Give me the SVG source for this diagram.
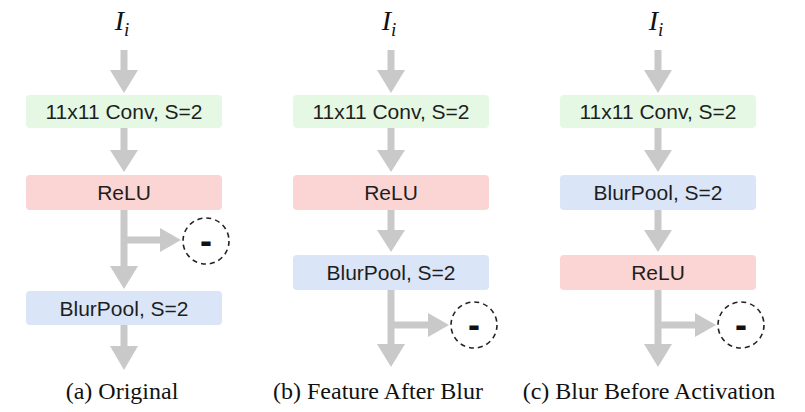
<svg xmlns="http://www.w3.org/2000/svg" width="805" height="412" viewBox="0 0 805 412">
<style>
.box{stroke:none}
.conv{fill:#e4f8e4}
.relu{fill:#fbd4d4}
.blur{fill:#dbe5f8}
.lbl{font-family:"Liberation Sans",Arial,sans-serif;font-size:21px;fill:#1e1e1e;text-anchor:middle}
.arr{fill:#c9c9c9}
.circ{fill:none;stroke:#222;stroke-width:1.6;stroke-dasharray:5 4}
.minus{font-family:"Liberation Sans",Arial,sans-serif;font-size:36px;font-weight:bold;fill:#111;text-anchor:middle}
.math{font-family:"Liberation Serif","Times New Roman",serif;font-style:italic;font-size:28px;fill:#111;text-anchor:middle}
.cap{font-family:"Liberation Serif","Times New Roman",serif;font-size:24px;fill:#111;text-anchor:middle}
</style>
<rect width="805" height="412" fill="#ffffff"/>

<g id="connectors">
  <!-- panel a -->
  <path class="arr" d="M120.5 50 V70 H110 L124 93 L138 70 H127.5 V50 Z"/>
  <path class="arr" d="M120.5 128 V150 H110 L124 172 L138 150 H127.5 V128 Z"/>
  <path class="arr" d="M120.5 210 V266 H110 L124 289 L138 266 H127.5 V210 Z"/>
  <path class="arr" d="M124 236.5 H160 V228 L181 240 L160 252 V243.5 H124 Z"/>
  <path class="arr" d="M120.5 325 V346 H110 L124 370 L138 346 H127.5 V325 Z"/>
  <!-- panel b -->
  <path class="arr" d="M387.5 50 V70 H377 L391 93 L405 70 H394.5 V50 Z"/>
  <path class="arr" d="M387.5 128 V150 H377 L391 172 L405 150 H394.5 V128 Z"/>
  <path class="arr" d="M387.5 210 V230 H377 L391 252 L405 230 H394.5 V210 Z"/>
  <path class="arr" d="M387.5 290 V344 H377 L391 367 L405 344 H394.5 V290 Z"/>
  <path class="arr" d="M391 321.5 H428 V313 L449 325 L428 337 V328.5 H391 Z"/>
  <!-- panel c -->
  <path class="arr" d="M654.5 50 V70 H644 L658 93 L672 70 H661.5 V50 Z"/>
  <path class="arr" d="M654.5 128 V150 H644 L658 172 L672 150 H661.5 V128 Z"/>
  <path class="arr" d="M654.5 210 V230 H644 L658 252 L672 230 H661.5 V210 Z"/>
  <path class="arr" d="M654.5 290 V344 H644 L658 367 L672 344 H661.5 V290 Z"/>
  <path class="arr" d="M658 321.5 H695 V313 L716 325 L695 337 V328.5 H658 Z"/>
</g>

<!-- Panel (a) -->
<g id="a-input"><text class="math" x="122" y="30">I<tspan font-size="19" dy="6">i</tspan></text></g>
<g id="a-conv"><rect class="box conv" x="26" y="95" width="196" height="33" rx="4"/><text class="lbl" x="124" y="119">11x11 Conv, S=2</text></g>
<g id="a-relu"><rect class="box relu" x="26" y="175" width="196" height="35" rx="4"/><text class="lbl" x="124" y="200">ReLU</text></g>
<g id="a-minus"><circle class="circ" cx="206" cy="241" r="23"/><text class="minus" x="206" y="253">-</text></g>
<g id="a-blur"><rect class="box blur" x="26" y="291" width="196" height="34" rx="4"/><text class="lbl" x="124" y="315.5">BlurPool, S=2</text></g>
<g id="a-caption"><text class="cap" x="122" y="399">(a) Original</text></g>

<!-- Panel (b) -->
<g id="b-input"><text class="math" x="389" y="30">I<tspan font-size="19" dy="6">i</tspan></text></g>
<g id="b-conv"><rect class="box conv" x="293" y="95" width="196" height="33" rx="4"/><text class="lbl" x="391" y="119">11x11 Conv, S=2</text></g>
<g id="b-relu"><rect class="box relu" x="293" y="175" width="196" height="35" rx="4"/><text class="lbl" x="391" y="200">ReLU</text></g>
<g id="b-blur"><rect class="box blur" x="293" y="255" width="196" height="35" rx="4"/><text class="lbl" x="391" y="280">BlurPool, S=2</text></g>
<g id="b-minus"><circle class="circ" cx="474" cy="325" r="23"/><text class="minus" x="474" y="337">-</text></g>
<g id="b-caption"><text class="cap" x="378" y="399">(b) Feature After Blur</text></g>

<!-- Panel (c) -->
<g id="c-input"><text class="math" x="656" y="30">I<tspan font-size="19" dy="6">i</tspan></text></g>
<g id="c-conv"><rect class="box conv" x="560" y="95" width="196" height="33" rx="4"/><text class="lbl" x="658" y="119">11x11 Conv, S=2</text></g>
<g id="c-blur"><rect class="box blur" x="560" y="175" width="196" height="35" rx="4"/><text class="lbl" x="658" y="200">BlurPool, S=2</text></g>
<g id="c-relu"><rect class="box relu" x="560" y="255" width="196" height="35" rx="4"/><text class="lbl" x="658" y="280">ReLU</text></g>
<g id="c-minus"><circle class="circ" cx="741" cy="325" r="23"/><text class="minus" x="741" y="337">-</text></g>
<g id="c-caption"><text class="cap" x="649" y="399">(c) Blur Before Activation</text></g>
</svg>
